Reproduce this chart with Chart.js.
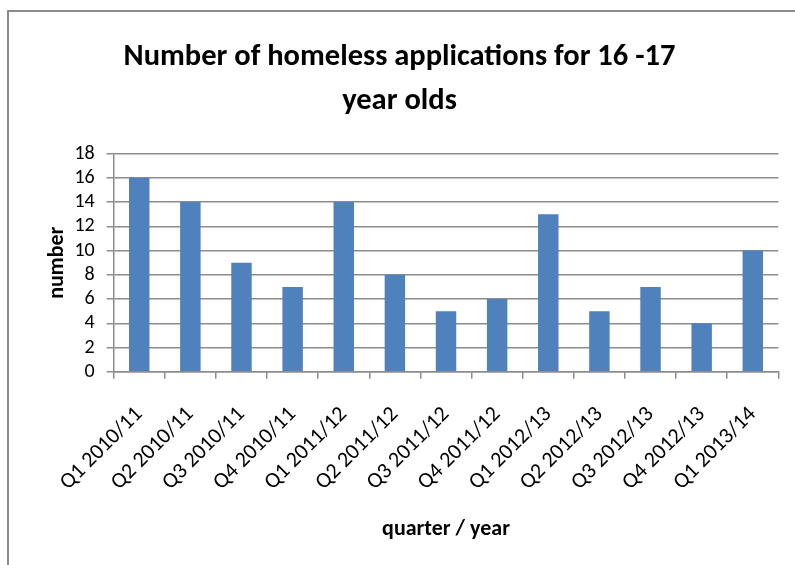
<!DOCTYPE html>
<html>
<head>
<meta charset="utf-8">
<script src="https://cdn.jsdelivr.net/npm/chart.js@4"></script>
<style>
  html, body { margin: 0; padding: 0; background: #fff; overflow: hidden; }
  #frame {
    position: absolute; left: 7px; top: 10px; width: 900px; height: 700px;
    border: 2px solid #8a8a8a; box-sizing: border-box;
  }
  #wrap { position: absolute; left: 0; top: 0; width: 795px; height: 565px; }
</style>
</head>
<body>
<div id="frame"></div>
<div id="wrap"><canvas id="homelessChart" width="795" height="565"></canvas></div>
<script>
  // quarterly counts of homeless applications, 16-17 year olds
  const quarters = [
    'Q1 2010/11', 'Q2 2010/11', 'Q3 2010/11', 'Q4 2010/11',
    'Q1 2011/12', 'Q2 2011/12', 'Q3 2011/12', 'Q4 2011/12',
    'Q1 2012/13', 'Q2 2012/13', 'Q3 2012/13', 'Q4 2012/13',
    'Q1 2013/14'
  ];
  const applications = [16, 14, 9, 7, 14, 8, 5, 6, 13, 5, 7, 4, 10];
  const titleLines = ['Number of homeless applications for 16 -17', 'year olds'];
  const yMax = 18;
  const yStep = 2;

  const fontFamily = "Carlito, Lato, 'Open Sans', sans-serif";
  const axisGray = '#8c8c8c';

  new Chart(document.getElementById('homelessChart'), {
    type: 'bar',
    data: {
      labels: quarters,
      datasets: [{
        label: 'applications',
        data: applications,
        backgroundColor: '#4f81bd',
        borderWidth: 0,
        barPercentage: 0.4,
        categoryPercentage: 1.0,
      }],
    },
    options: {
      responsive: false,
      animation: false,
      layout: { padding: { left: 18, right: 14, top: 36, bottom: 22 } },
      plugins: {
        legend: { display: false },
        tooltip: { enabled: false },
        title: {
          display: true,
          text: titleLines,
          color: '#000',
          font: { family: fontFamily, size: 30.5, weight: 'bold', lineHeight: 1.42 },
          padding: { top: 0, bottom: 31 },
        },
      },
      scales: {
        x: {
          // the slanted first label may hang past the y axis; don't reserve room for it
          afterFit: (axis) => { axis.paddingLeft = 0; },
          grid: {
            display: true,
            drawOnChartArea: false,
            drawTicks: true,
            tickLength: 7,
            color: axisGray,
            lineWidth: 1.5,
          },
          border: { display: true, color: axisGray, width: 1.5 },
          ticks: {
            color: '#000',
            minRotation: 45,
            maxRotation: 45,
            padding: 23,
            font: { family: fontFamily, size: 22 },
          },
          title: {
            display: true,
            text: 'quarter / year',
            color: '#000',
            font: { family: fontFamily, size: 22, weight: 'bold' },
            padding: { top: -2, bottom: 0 },
          },
        },
        y: {
          min: 0,
          max: yMax,
          grid: {
            color: axisGray,
            lineWidth: 1.5,
            tickLength: 7,
          },
          border: { display: true, color: axisGray, width: 1.5 },
          ticks: {
            stepSize: yStep,
            autoSkip: false,
            color: '#000',
            padding: 12,
            font: { family: fontFamily, size: 20 },
          },
          title: {
            display: true,
            text: 'number',
            color: '#000',
            font: { family: fontFamily, size: 22, weight: 'bold' },
            padding: { top: 26, bottom: -8 },
          },
        },
      },
    },
  });
</script>
</body>
</html>
